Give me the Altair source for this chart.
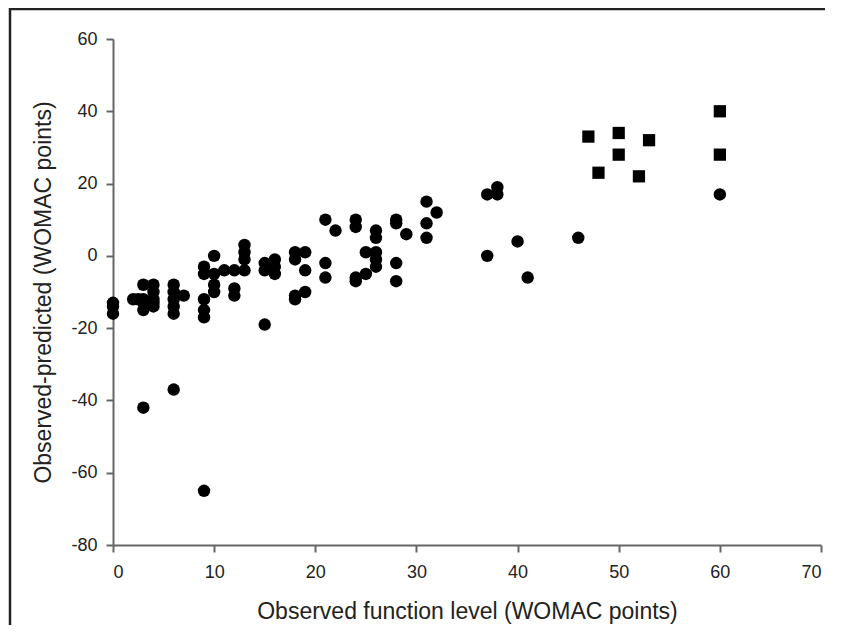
import altair as alt
import pandas as pd

# Circles: observed function level vs observed-predicted
circle_x = [0, 0, 0,
            2, 2.5, 3, 3, 3, 3, 4, 4, 4, 4, 4,
            6, 6, 6, 6, 6, 7,
            9, 9, 9, 9, 9, 10, 10, 10, 10, 11,
            12, 12, 12, 13, 13, 13, 13,
            15, 15, 15, 16, 16, 16,
            18, 18, 18, 18, 19, 19, 19,
            21, 21, 21, 22, 24, 24, 24, 24, 25, 25,
            26, 26, 26, 26, 26, 28, 28, 28, 28, 29,
            31, 31, 31, 32, 37, 37, 38, 38, 40, 41, 46, 60,
            3, 6, 9]
circle_y = [-13, -14, -16,
            -12, -12, -8, -12, -13, -15, -8, -10, -12, -13, -14,
            -8, -10, -12, -14, -16, -11,
            -3, -5, -12, -15, -17, 0, -5, -8, -10, -4,
            -4, -9, -11, 3, 1, -1, -4,
            -2, -4, -19, -1, -3, -5,
            1, -1, -11, -12, 1, -4, -10,
            10, -2, -6, 7, 10, 8, -6, -7, 1, -5,
            7, 5, 1, -1, -3, 10, 9, -2, -7, 6,
            15, 9, 5, 12, 17, 0, 19, 17, 4, -6, 5, 17,
            -42, -37, -65]

# Squares
square_x = [47, 48, 50, 50, 52, 53, 60, 60]
square_y = [33, 23, 34, 28, 22, 32, 40, 28]

y_ticks = [-80, -60, -40, -20, 0, 20, 40, 60]
x_ticks = [0, 10, 20, 30, 40, 50, 60, 70]

circles = pd.DataFrame({"x": circle_x, "y": circle_y})
squares = pd.DataFrame({"x": square_x, "y": square_y})

hyphen = "datum.value < 0 ? '-' + abs(datum.value) : '' + datum.value"

x_enc = alt.X("x:Q",
              scale=alt.Scale(domain=[0, 70], nice=False, zero=False),
              axis=alt.Axis(values=x_ticks, title="Observed function level (WOMAC points)",
                            grid=False, tickSize=7, labelPadding=11,
                            titleY=66, titleBaseline="middle",
                            titleFontSize=23, titleFontWeight="normal",
                            labelFontSize=18))
y_enc = alt.Y("y:Q",
              scale=alt.Scale(domain=[-80, 60], nice=False, zero=False),
              axis=alt.Axis(values=y_ticks, title="Observed-predicted (WOMAC points)",
                            grid=False, tickSize=7, labelPadding=9,
                            labelExpr=hyphen,
                            titleX=-70, titleBaseline="middle",
                            titleFontSize=23, titleFontWeight="normal",
                            labelFontSize=18))

pts = alt.Chart(circles).mark_point(shape="circle", filled=True, size=155,
                                    color="black", opacity=1).encode(x=x_enc, y=y_enc)
sqs = alt.Chart(squares).mark_point(shape="square", filled=True, size=150,
                                    color="black", opacity=1).encode(x="x:Q", y="y:Q")

one = pd.DataFrame({"a": [0]})
top_border = alt.Chart(one).mark_rule(color="#222", strokeWidth=2.5).encode(
    y=alt.value(-30), x=alt.value(-104), x2=alt.value(712))
left_border = alt.Chart(one).mark_rule(color="#222", strokeWidth=2.5).encode(
    x=alt.value(-103), y=alt.value(-31), y2=alt.value(600))

chart = alt.layer(top_border, left_border, pts, sqs).properties(
    width=708, height=506,
    autosize=alt.AutoSizeParams(type="none"),
    padding={"left": 105, "top": 31, "right": 4, "bottom": 80},
).configure_view(stroke=None).configure_axis(
    domainColor="#666", domainWidth=2, tickColor="#666", tickWidth=2,
    labelColor="#222", titleColor="#222",
    labelFont="Liberation Sans", titleFont="Liberation Sans",
)

chart.save("out.html", embed_options={"renderer": "svg", "actions": False})
